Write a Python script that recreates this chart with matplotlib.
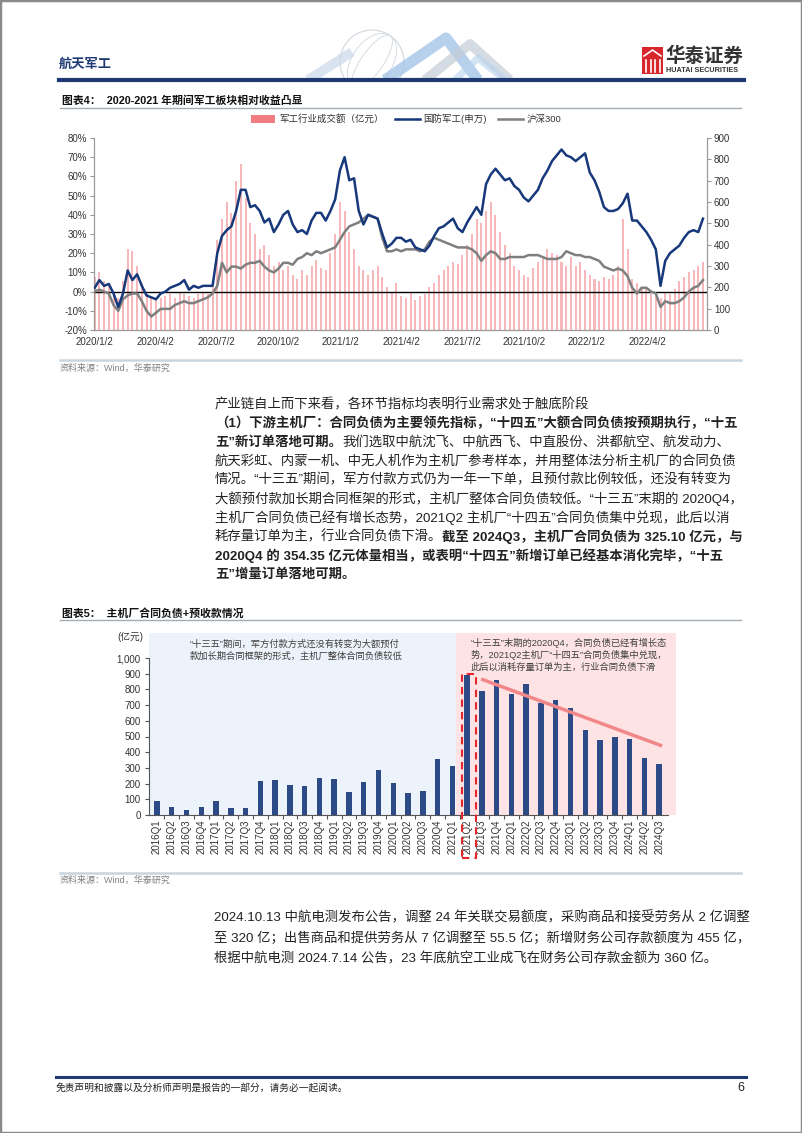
import numpy as np
import pandas as pd
import matplotlib
matplotlib.use('Agg')
import matplotlib.pyplot as plt
from matplotlib.patches import Rectangle, Patch, Circle, Ellipse
from matplotlib.lines import Line2D
from matplotlib.ticker import FuncFormatter, FixedLocator

plt.rcParams['font.family'] = ['Liberation Sans', 'Noto Sans CJK SC']
plt.rcParams['axes.unicode_minus'] = False

# ---------------- data : chart 1 (weekly, from 2020-01-03) ----------------
week_start = '2020-01-03'
n_weeks = 130
defense_pct = [2, 6, 3, 4, -1, -8, -1, 11, 6, 9,
               3, -2, -3, -4, -1, 0, 2, 3, 4, 6,
               1, 3, 2, 3, 3, 3, 20, 29, 32, 34,
               42, 53, 53, 44, 45, 42, 36, 38, 31, 35,
               40, 42, 35, 31, 32, 30, 37, 41, 41, 37,
               42, 48, 63, 70, 58, 59, 42, 35, 40, 39,
               38, 30, 23, 25, 28, 28, 26, 27, 23, 22,
               21, 24, 29, 33, 34, 36, 38, 33, 31, 36,
               40, 44, 40, 56, 61, 64, 61, 58, 59, 55,
               53, 49, 47, 50, 53, 59, 63, 68, 71, 74,
               71, 70, 68, 70, 72, 62, 58, 52, 44, 42,
               42, 43, 46, 51, 37, 37, 34, 31, 27, 22,
               3, 16, 20, 22, 24, 28, 31, 32, 31, 38]
hs300_pct = [0, 1, 0, -1, -7, -10, -4, -2, -1, -1,
             -5, -10, -13, -11, -9, -9, -9, -7, -6, -5,
             -6, -6, -5, -4, -3, -1, 3, 15, 10, 13,
             13, 12, 14, 15, 15, 16, 13, 11, 10, 12,
             15, 15, 14, 17, 18, 20, 19, 21, 20, 21,
             22, 23, 27, 31, 34, 35, 36, 38, 40, 39,
             38, 28, 21, 21, 22, 21, 22, 22, 22, 21,
             22, 26, 28, 27, 26, 25, 24, 23, 23, 23,
             22, 20, 16, 19, 21, 20, 17, 17, 18, 18,
             18, 18, 19, 19, 19, 18, 17, 17, 17, 18,
             21, 20, 19, 19, 18, 18, 17, 16, 13, 12,
             11, 12, 11, 8, 2, -1, 2, 2, 0, -1,
             -8, -5, -6, -6, -5, -3, 0, 2, 3, 6]
turnover = [250, 270, 230, 210, 170, 150, 230, 380, 370, 300,
            220, 170, 150, 140, 150, 160, 170, 150, 180, 170,
            160, 150, 170, 180, 170, 200, 420, 520, 600, 550,
            700, 780, 620, 500, 450, 380, 400, 350, 300, 320,
            280, 300, 260, 240, 280, 260, 300, 330, 290, 280,
            360, 450, 600, 560, 460, 380, 300, 280, 260, 280,
            300, 250, 200, 180, 220, 160, 150, 180, 140, 160,
            170, 200, 220, 260, 280, 300, 320, 310, 350, 400,
            450, 520, 500, 560, 600, 540, 460, 400, 360, 300,
            280, 260, 250, 290, 320, 340, 380, 360, 350, 320,
            300, 340, 300, 320, 280, 260, 240, 230, 250, 240,
            260, 300, 520, 380, 240, 220, 200, 190, 170, 160,
            150, 180, 170, 190, 230, 250, 270, 280, 300, 320]
c1_tick_dates = ['2020-01-02', '2020-04-02', '2020-07-02', '2020-10-02', '2021-01-02',
                 '2021-04-02', '2021-07-02', '2021-10-02', '2022-01-02', '2022-04-02']
c1_tick_labels = ['2020/1/2', '2020/4/2', '2020/7/2', '2020/10/2', '2021/1/2',
                  '2021/4/2', '2021/7/2', '2021/10/2', '2022/1/2', '2022/4/2']
c1_xrange = ['2020-01-02', '2022-06-30']
c1_legend = ['军工行业成交额（亿元）', '国防军工(申万)', '沪深300']

# ---------------- data : chart 2 ----------------
quarters = ['2016Q1', '2016Q2', '2016Q3', '2016Q4', '2017Q1', '2017Q2', '2017Q3', '2017Q4',
            '2018Q1', '2018Q2', '2018Q3', '2018Q4', '2019Q1', '2019Q2', '2019Q3', '2019Q4',
            '2020Q1', '2020Q2', '2020Q3', '2020Q4', '2021Q1', '2021Q2', '2021Q3', '2021Q4',
            '2022Q1', '2022Q2', '2022Q3', '2022Q4', '2023Q1', '2023Q2', '2023Q3', '2023Q4',
            '2024Q1', '2024Q2', '2024Q3']
liabilities = [89, 49, 34, 49, 87, 45, 44, 214, 220, 189, 184, 237, 229, 146, 208, 286,
               201, 140, 155, 354.35, 311, 892, 790, 863, 769, 835, 716, 733, 684, 542,
               475, 498, 487, 360, 325.10]
trend_quarters = ['2021Q3', '2024Q3']
trend_values = [866, 440]
highlight_quarter = '2021Q2'

# ---------------- page ----------------
W, H = 802, 1133
fig = plt.figure(figsize=(W / 100, H / 100), dpi=100)
renderer = fig.canvas.get_renderer()


def fx(x):
    return x / W


def fy(y):
    return 1 - y / H


def hline(x0, x1, y, color, lw):
    fig.add_artist(Line2D([fx(x0), fx(x1)], [fy(y), fy(y)], color=color, lw=lw,
                          transform=fig.transFigure))


def text(x, y, s, size, color='#222222', bold=False, ha='left', **kw):
    return fig.text(fx(x), fy(y), s, fontsize=size, color=color, ha=ha, va='center',
                    fontweight='bold' if bold else 'normal', **kw)


def runs(x, y, parts, size=9.6, color='#222222'):
    for s, b in parts:
        t = text(x, y, s, size, color=color, bold=b)
        x += t.get_window_extent(renderer=renderer).width


# page border
fig.add_artist(Rectangle((0, 0), 1, 1, transform=fig.transFigure, fill=False,
                         edgecolor='#8a8a8a', lw=2.5))

# header decoration
hdr = fig.add_axes([0, fy(80), 1, fy(0) - fy(80)])
hdr.set_xlim(0, W)
hdr.set_ylim(80, 0)
hdr.axis('off')
hdr.add_patch(Circle((372, 62), 32, fill=False, edgecolor='#cfd6de', lw=0.8))
hdr.add_patch(Ellipse((372, 62), 40, 64, angle=35, fill=False, edgecolor='#d6dce3', lw=0.7))
hdr.add_patch(Ellipse((372, 62), 22, 64, angle=35, fill=False, edgecolor='#d6dce3', lw=0.7))
hdr.plot([308, 352], [80, 52], color='#c9d9ea', lw=7, alpha=0.7, solid_capstyle='butt')
hdr.plot([385, 446, 478], [80, 38, 80], color='#9fc2e6', lw=8, alpha=0.75, solid_capstyle='butt')
hdr.plot([425, 470, 510], [80, 44, 80], color='#c4ccd6', lw=7, alpha=0.7, solid_capstyle='butt')
hdr.plot([455, 478, 505], [80, 58, 80], color='#b7d2ee', lw=5, alpha=0.6, solid_capstyle='butt')

text(59, 65, '航天军工', 9.5, color='#1f3a73', bold=True)
hline(59, 744, 80, '#1f3a73', 3)

# logo
fig.add_artist(Rectangle((fx(642), fy(74)), fx(21), fy(47) - fy(74), transform=fig.transFigure,
                         facecolor='#d7262c', edgecolor='none'))
for xx in (646, 650.5, 655, 659.5):
    fig.add_artist(Line2D([fx(xx), fx(xx)], [fy(72), fy(60)], color='white', lw=1.2,
                          transform=fig.transFigure))
fig.add_artist(Line2D([fx(644), fx(652.5), fx(661)], [fy(56), fy(50), fy(56)], color='white',
                      lw=1.2, transform=fig.transFigure))
text(665, 56, '华泰证券', 14, color='#333333', bold=True)
text(666, 71, 'HUATAI SECURITIES', 5.2, color='#333333', bold=True)

# ---------------- chart 1 ----------------
text(62, 101, '图表4：  2020-2021 年期间军工板块相对收益凸显', 7.8, color='#111111', bold=True)
hline(60, 741, 108, '#a3abb3', 1.0)

dates = pd.date_range(week_start, periods=n_weeks, freq='W-FRI')
ax1 = fig.add_axes([fx(94), fy(330), fx(707) - fx(94), fy(138) - fy(330)])
ax1b = ax1.twinx()
ax1b.bar(dates, turnover, width=3.0, color='#f3a1a4', alpha=0.75, linewidth=0)
ax1.axhline(0, color='black', lw=1.0, zorder=3)
ax1.plot(dates, hs300_pct, color='#7f7f7f', lw=1.8, zorder=4)
ax1.plot(dates, defense_pct, color='#17387a', lw=1.8, zorder=5)
ax1.set_zorder(2)
ax1.patch.set_visible(False)
ax1b.set_zorder(1)

x0, x1 = pd.to_datetime(c1_xrange)
ax1.set_xlim(x0, x1)
ax1.set_ylim(-20, 80)
ax1.set_yticks(range(-20, 81, 10))
ax1.yaxis.set_major_formatter(FuncFormatter(lambda v, p: f'{v:.0f}%'))
ax1b.set_ylim(0, 900)
ax1b.set_yticks(range(0, 901, 100))
ax1.set_xticks(pd.to_datetime(c1_tick_dates))
ax1.set_xticklabels(c1_tick_labels)
for a in (ax1, ax1b):
    a.spines['top'].set_visible(False)
    for s in ('left', 'right', 'bottom'):
        a.spines[s].set_color('#9a9a9a')
        a.spines[s].set_linewidth(0.8)
    a.tick_params(axis='y', labelsize=7, colors='#9a9a9a', labelcolor='#333333',
                  length=3, width=0.8, pad=2)
ax1.tick_params(axis='x', labelsize=7, labelcolor='#333333', length=0, pad=5)

handles = [Patch(facecolor='#f07b80', edgecolor='none'),
           Line2D([], [], color='#17387a', lw=1.8),
           Line2D([], [], color='#7f7f7f', lw=1.8)]
fig.legend(handles, c1_legend, loc='center', bbox_to_anchor=(fx(406), fy(119)), ncol=3,
           frameon=False, fontsize=6.8, handlelength=2.6, handleheight=0.8, columnspacing=1.2,
           handletextpad=0.4, labelcolor='#333333')

hline(60, 741, 360, '#c9d5de', 1.8)
text(60, 368, '资料来源：Wind，华泰研究', 6.5, color='#808080')

# ---------------- paragraph 1 ----------------
para = [
    [('产业链自上而下来看，各环节指标均表明行业需求处于触底阶段', False)],
    [('（1）下游主机厂：合同负债为主要领先指标，“十四五”大额合同负债按预期执行，“十五', True)],
    [('五”新订单落地可期。', True), ('我们选取中航沈飞、中航西飞、中直股份、洪都航空、航发动力、', False)],
    [('航天彩虹、内蒙一机、中无人机作为主机厂参考样本，并用整体法分析主机厂的合同负债', False)],
    [('情况。“十三五”期间，军方付款方式仍为一年一下单，且预付款比例较低，还没有转变为', False)],
    [('大额预付款加长期合同框架的形式，主机厂整体合同负债较低。“十三五”末期的 2020Q4，', False)],
    [('主机厂合同负债已经有增长态势，2021Q2 主机厂“十四五”合同负债集中兑现，此后以消', False)],
    [('耗存量订单为主，行业合同负债下滑。', False), ('截至 2024Q3，主机厂合同负债为 325.10 亿元，与', True)],
    [('2020Q4 的 354.35 亿元体量相当，或表明“十四五”新增订单已经基本消化完毕，“十五', True)],
    [('五”增量订单落地可期。', True)],
]
for i, parts in enumerate(para):
    runs(215, 405 + i * 18.8, parts)

# ---------------- chart 2 ----------------
text(62, 613, '图表5：  主机厂合同负债+预收款情况', 7.8, color='#111111', bold=True)
hline(60, 741, 620, '#a3abb3', 1.0)

ax2 = fig.add_axes([fx(149), fy(815), fx(668) - fx(149), fy(658) - fy(815)])
xi = np.arange(len(quarters))
hi = quarters.index(highlight_quarter)
ax2.add_patch(Rectangle((-0.54, 0), 20.79, 1160, facecolor='#edf3fb', edgecolor='none',
                        zorder=0, clip_on=False))
ax2.add_patch(Rectangle((20.25, 0), 14.9, 1160, facecolor='#fde3e4', edgecolor='none',
                        zorder=0, clip_on=False))
ax2.bar(xi, liabilities, width=0.37, color='#2c4a86', zorder=2)
tx = [quarters.index(q) for q in trend_quarters]
ax2.plot([tx[0] - 0.05, tx[1] + 0.2], trend_values, color='#f2878a', lw=2.5,
         solid_capstyle='butt', zorder=3)
ax2.add_patch(Rectangle((hi - 0.38, -274), 0.95, 274 + 898, fill=False, edgecolor='#e5262d',
                        lw=1.5, ls=(0, (3.5, 2.5)), zorder=6, clip_on=False))
ax2.set_xlim(-0.54, 34.6)
ax2.set_ylim(0, 1000)
ax2.set_yticks(range(0, 1001, 100))
ax2.yaxis.set_major_formatter(FuncFormatter(lambda v, p: f'{v:,.0f}'))
ax2.set_xticks(xi)
ax2.set_xticklabels(quarters, rotation=90)
ax2.xaxis.set_minor_locator(FixedLocator(xi[:-1] + 0.5))
ax2.tick_params(axis='x', which='major', length=0, labelsize=7, labelcolor='#333333', pad=3)
ax2.tick_params(axis='x', which='minor', length=3, width=0.8, color='#555555')
ax2.tick_params(axis='y', labelsize=7, labelcolor='#333333', length=3, width=0.8,
                color='#555555', pad=3)
ax2.patch.set_visible(False)
for s in ('top', 'right'):
    ax2.spines[s].set_visible(False)
for s in ('left', 'bottom'):
    ax2.spines[s].set_color('#555555')
    ax2.spines[s].set_linewidth(0.8)

text(117, 637, '(亿元)', 7, color='#333333')
text(190, 644, '“十三五”期间，军方付款方式还没有转变为大额预付', 6.7, color='#404040')
text(190, 656, '款加长期合同框架的形式，主机厂整体合同负债较低', 6.7, color='#404040')
text(471, 643, '“十三五”末期的2020Q4，合同负债已经有增长态', 6.7, color='#404040')
text(471, 655, '势，2021Q2主机厂“十四五”合同负债集中兑现，', 6.7, color='#404040')
text(471, 667, '此后以消耗存量订单为主，行业合同负债下滑', 6.7, color='#404040')

hline(60, 741, 873, '#c9d5de', 1.8)
text(60, 880, '资料来源：Wind，华泰研究', 6.5, color='#808080')

# ---------------- paragraph 2 ----------------
para2 = [
    '2024.10.13 中航电测发布公告，调整 24 年关联交易额度，采购商品和接受劳务从 2 亿调整',
    '至 320 亿；出售商品和提供劳务从 7 亿调整至 55.5 亿；新增财务公司存款额度为 455 亿，',
    '根据中航电测 2024.7.14 公告，23 年底航空工业成飞在财务公司存款金额为 360 亿。',
]
for i, s in enumerate(para2):
    text(214, 918 + i * 20.5, s, 9.6)

# ---------------- footer ----------------
hline(56, 746, 1077, '#1f3a73', 2.2)
text(56, 1088, '免责声明和披露以及分析师声明是报告的一部分，请务必一起阅读。', 7, color='#222222',
     style='italic')
text(744, 1088, '6', 9, color='#222222', ha='right')

fig.savefig('out.png', dpi=100)
